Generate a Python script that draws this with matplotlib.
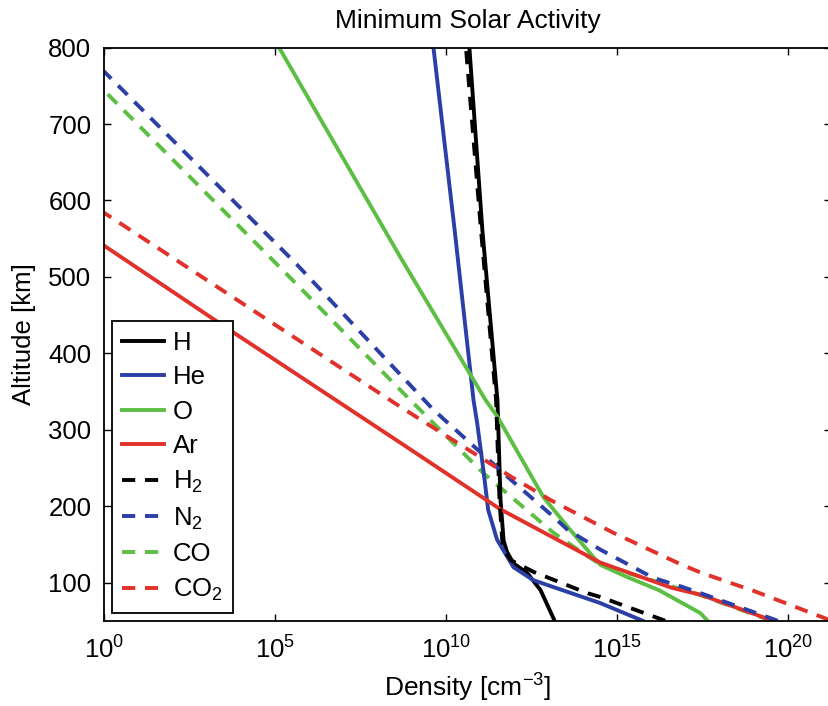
import numpy as np
import matplotlib
matplotlib.use("Agg")
import matplotlib.pyplot as plt
from matplotlib.ticker import NullLocator

plt.rcParams['font.family'] = ['Liberation Sans', 'DejaVu Sans']
plt.rcParams['mathtext.fontset'] = 'custom'
plt.rcParams['mathtext.rm'] = 'Liberation Sans'
plt.rcParams['mathtext.it'] = 'Liberation Sans:italic'

# altitude [km] and log10 of density [cm^-3]
alt_H = [50, 90, 112, 125, 140, 155, 208, 339, 561, 800]
logn_H = [13.17, 12.76, 12.38, 11.97, 11.78, 11.68, 11.59, 11.50, 11.06, 10.68]

alt_He = [50, 73, 103, 120, 156, 195, 247, 308, 339, 561, 800]
logn_He = [15.74, 14.51, 12.55, 11.97, 11.49, 11.23, 11.09, 10.91, 10.80, 10.25, 9.63]

alt_O = [50, 60, 90, 107, 123, 133, 173, 212, 317, 339, 526, 601, 800]
logn_O = [17.64, 17.43, 16.22, 15.30, 14.51, 14.31, 13.55, 12.84, 11.50, 11.15, 8.66, 7.69, 5.12]

alt_Ar = [50, 84, 93, 126, 156, 196, 283, 433, 541]
logn_Ar = [19.55, 17.44, 16.60, 14.51, 13.25, 11.58, 8.66, 3.59, 0.0]

alt_H2 = [50, 81, 86, 114, 129, 140, 155, 208, 339, 561, 800]
logn_H2 = [16.40, 14.51, 14.13, 12.55, 11.90, 11.72, 11.64, 11.56, 11.46, 11.02, 10.58]

alt_N2 = [50, 86, 95, 106, 143, 169, 186, 235, 326, 518, 769]
logn_N2 = [19.69, 17.44, 16.85, 16.06, 14.51, 13.55, 13.14, 11.88, 9.63, 5.60, 0.0]

alt_CO = [50, 84, 110, 121, 132, 147, 165, 243, 352, 486, 744]
logn_CO = [19.50, 17.40, 15.50, 14.60, 14.22, 13.72, 13.14, 11.09, 8.66, 5.73, 0.0]

alt_CO2 = [50, 89, 113, 124, 165, 208, 239, 330, 584]
logn_CO2 = [21.26, 18.99, 17.44, 16.85, 14.89, 13.05, 11.88, 8.66, 0.0]

black = '#000000'
blue = '#2b3fa6'
green = '#5cbf44'
red = '#e2302a'
lw = 2.8
dash = (3.4, 2.5)
fs = 18.5

fig = plt.figure(figsize=(8.29, 7.06), dpi=100)
ax = fig.add_axes([104 / 829, 85.3 / 706, 727 / 829, 573 / 706])

# CO is drawn first so it hides under the other lines at low altitude
l_co, = ax.plot(10 ** np.array(logn_CO), alt_CO, color=green, lw=lw, dashes=dash, label='CO')
l_h, = ax.plot(10 ** np.array(logn_H), alt_H, color=black, lw=lw, label='H')
l_he, = ax.plot(10 ** np.array(logn_He), alt_He, color=blue, lw=lw, label='He')
l_o, = ax.plot(10 ** np.array(logn_O), alt_O, color=green, lw=lw, label='O')
l_ar, = ax.plot(10 ** np.array(logn_Ar), alt_Ar, color=red, lw=lw, label='Ar')
l_h2, = ax.plot(10 ** np.array(logn_H2), alt_H2, color=black, lw=lw, dashes=dash, label='H$_2$')
l_n2, = ax.plot(10 ** np.array(logn_N2), alt_N2, color=blue, lw=lw, dashes=dash, label='N$_2$')
l_co2, = ax.plot(10 ** np.array(logn_CO2), alt_CO2, color=red, lw=lw, dashes=dash, label='CO$_2$')

ax.set_xscale('log')
ax.set_xlim(1e0, 10 ** 21.25)
ax.set_ylim(50, 800)
ax.set_xticks([1e0, 1e5, 1e10, 1e15, 1e20])
ax.xaxis.set_minor_locator(NullLocator())
ax.set_yticks(range(100, 801, 100))

ax.tick_params(direction='in', length=5, width=1, top=True, right=True, labelsize=fs, pad=9)
ax.tick_params(axis='x', pad=11)
for s in ax.spines.values():
    s.set_linewidth(1.3)

ax.set_xlabel('Density [cm$^{-3}$]', fontsize=19, labelpad=6)
ax.set_ylabel('Altitude [km]', fontsize=18.5, labelpad=9)
ax.set_title('Minimum Solar Activity', fontsize=19, pad=14)

leg = ax.legend(handles=[l_h, l_he, l_o, l_ar, l_h2, l_n2, l_co, l_co2],
                loc='lower left', bbox_to_anchor=(0.011, 0.014), borderaxespad=0,
                fontsize=fs, fancybox=False, framealpha=1, edgecolor='black',
                handlelength=1.65, handletextpad=0.35, labelspacing=0.41, borderpad=0.38)
leg.get_frame().set_linewidth(1.3)

fig.savefig('out.png', dpi=100)
